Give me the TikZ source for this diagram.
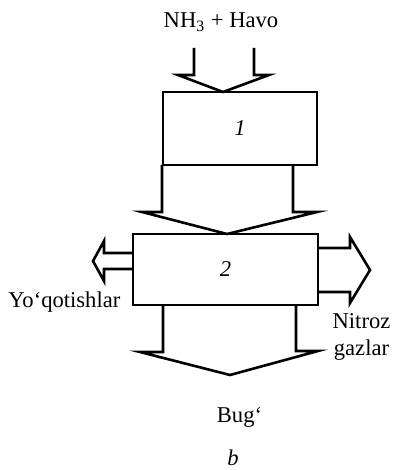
\documentclass[tikz,border=0pt]{standalone}
\usepackage{fontspec}
\setmainfont{Liberation Serif}
\usetikzlibrary{positioning}

\begin{document}
\begin{tikzpicture}[x=0.5pt,y=-0.5pt,
  font=\fontsize{11.3}{13.5}\selectfont,
  blok/.style={draw,line width=1.3pt,inner sep=0pt,font=\fontsize{11.3}{13.5}\selectfont\itshape},
  oq/.style={draw,line width=1.3pt,line join=miter},
  yoz/.style={inner sep=0pt,anchor=base}]
\useasboundingbox (0,0) rectangle (393,470);
% apparatlar
\node[blok,minimum width=77pt,minimum height=36.5pt] (b1) at (240,128.5) {1};
\node[blok,minimum width=92.5pt,minimum height=35.5pt] (b2) at (225.5,269.5) {2};
% oqimlar
\draw[oq] (194,48)--(194,75)--(178,75)--(223,92)--(269,75)--(254,75)--(254,48);
\draw[oq] (162,165)--(162,212)--(142,212)--(227,234)--(317,212)--(293,212)--(293,165);
\draw[oq] (163,305)--(163,352)--(140,352)--(230,375)--(318,351)--(296,351)--(296,305);
\draw[oq] (133,253)--(104,253)--(104,241)--(93,261)--(104,281)--(104,269)--(133,269);
\draw[oq] (318,248)--(350,248)--(350,237)--(370,270)--(350,303)--(350,292)--(318,292);
% yozuvlar
\node[yoz] (kirish) at (221,28) {NH\textsubscript{3} + Havo};
\node[yoz,anchor=base west] (yoqot) at (8,307) {Yo‘qotishlar};
\node[yoz] (nitroz) at (361.5,328) {Nitroz};
\node[yoz] (gazlar) at (361.5,355) {gazlar};
\node[yoz] (bug) at (239.5,422) {Bug‘};
\node[yoz,font=\fontsize{11.3}{13.5}\selectfont\itshape] (b) at (233,465) {b};
\end{tikzpicture}
\end{document}
